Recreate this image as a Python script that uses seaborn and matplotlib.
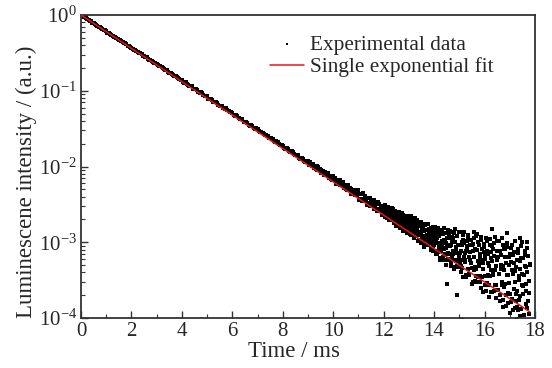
import numpy as np
import pandas as pd
import matplotlib
matplotlib.use('Agg')
import matplotlib.pyplot as plt
import matplotlib.ticker as mticker
from matplotlib.collections import PathCollection
import seaborn as sns

# decay data (time in ms, intensity as log10)
time_early = [0.0, 0.1, 0.2, 0.3, 0.4, 0.5, 0.6, 0.7, 0.8, 0.9,
              1.0, 1.1, 1.2, 1.3, 1.4, 1.5, 1.6, 1.7, 1.8, 1.9,
              2.0, 2.1, 2.2, 2.3, 2.4, 2.5, 2.6, 2.7, 2.8, 2.9,
              3.0, 3.1, 3.2, 3.3, 3.4, 3.5, 3.6, 3.7, 3.8, 3.9,
              4.0, 4.1, 4.2, 4.3, 4.4, 4.5, 4.6, 4.7, 4.8, 4.9,
              5.0, 5.1, 5.2, 5.3, 5.4, 5.5, 5.6, 5.7, 5.8, 5.9,
              6.0, 6.1, 6.2, 6.3, 6.4, 6.5, 6.6, 6.7, 6.8, 6.9,
              7.0, 7.1, 7.2, 7.3, 7.4, 7.5, 7.6, 7.7, 7.8, 7.9,
              8.0, 8.1, 8.2, 8.3, 8.4, 8.5, 8.6, 8.7, 8.8, 8.9,
              0.05, 0.15, 0.25, 0.35, 0.45, 0.55, 0.65, 0.75, 0.85, 0.95,
              1.05, 1.15, 1.25, 1.35, 1.45, 1.55, 1.65, 1.75, 1.85, 1.95,
              2.05, 2.15, 2.25, 2.35, 2.45, 2.55, 2.65, 2.75, 2.85, 2.95,
              3.05, 3.15, 3.25, 3.35, 3.45, 3.55, 3.65, 3.75, 3.85, 3.95,
              4.05, 4.15, 4.25, 4.35, 4.45, 4.55, 4.65, 4.75, 4.85, 4.95,
              5.05, 5.15, 5.25, 5.35, 5.45, 5.55, 5.65, 5.75, 5.85, 5.95,
              6.05, 6.15, 6.25, 6.35, 6.45, 6.55, 6.65, 6.75, 6.85, 6.95,
              7.05, 7.15, 7.25, 7.35, 7.45, 7.55, 7.65, 7.75, 7.85, 7.95,
              8.05, 8.15, 8.25, 8.35, 8.45, 8.55, 8.65, 8.75, 8.85, 8.95]
log_early = [-0.003, -0.026, -0.041, -0.068, -0.083, -0.110, -0.127, -0.156, -0.171, -0.198,
             -0.214, -0.242, -0.258, -0.284, -0.299, -0.327, -0.343, -0.372, -0.388, -0.414,
             -0.430, -0.459, -0.474, -0.501, -0.516, -0.543, -0.560, -0.589, -0.604, -0.631,
             -0.647, -0.675, -0.691, -0.717, -0.732, -0.760, -0.776, -0.805, -0.821, -0.847,
             -0.858, -0.898, -0.905, -0.938, -0.942, -0.979, -0.987, -1.029, -1.033, -1.069,
             -1.075, -1.114, -1.122, -1.154, -1.158, -1.196, -1.203, -1.245, -1.250, -1.285,
             -1.291, -1.331, -1.338, -1.371, -1.375, -1.412, -1.420, -1.462, -1.466, -1.502,
             -1.508, -1.547, -1.555, -1.587, -1.591, -1.629, -1.636, -1.678, -1.683, -1.718,
             -1.724, -1.764, -1.771, -1.804, -1.808, -1.845, -1.853, -1.895, -1.899, -1.935,
             -0.014, -0.029, -0.056, -0.073, -0.102, -0.117, -0.144, -0.159, -0.186, -0.203,
             -0.231, -0.245, -0.273, -0.289, -0.318, -0.334, -0.360, -0.375, -0.403, -0.419,
             -0.447, -0.462, -0.489, -0.506, -0.535, -0.550, -0.577, -0.592, -0.619, -0.636,
             -0.664, -0.678, -0.706, -0.722, -0.751, -0.767, -0.793, -0.808, -0.836, -0.852,
             -0.886, -0.889, -0.925, -0.934, -0.975, -0.979, -1.016, -1.018, -1.056, -1.064,
             -1.103, -1.105, -1.142, -1.150, -1.191, -1.196, -1.232, -1.234, -1.273, -1.280,
             -1.319, -1.322, -1.358, -1.367, -1.408, -1.412, -1.449, -1.451, -1.489, -1.497,
             -1.536, -1.538, -1.575, -1.583, -1.624, -1.629, -1.665, -1.667, -1.706, -1.713,
             -1.752, -1.755, -1.791, -1.800, -1.841, -1.845, -1.882, -1.884, -1.922, -1.930]

time_mid = [9.0, 9.05, 9.1, 9.15, 9.2, 9.25, 9.3, 9.35, 9.4, 9.45,
            9.5, 9.55, 9.6, 9.65, 9.7, 9.75, 9.8, 9.85, 9.9, 9.95,
            10.0, 10.05, 10.1, 10.15, 10.2, 10.25, 10.3, 10.35, 10.4, 10.45,
            10.5, 10.55, 10.6, 10.65, 10.7, 10.75, 10.8, 10.85, 10.9, 10.95,
            11.0, 11.05, 11.1, 11.15, 11.2, 11.25, 11.3, 11.35, 11.4, 11.45,
            11.5, 11.55, 11.6, 11.65, 11.7, 11.75, 11.8, 11.85, 11.9, 11.95,
            9.025, 9.075, 9.125, 9.175, 9.225, 9.275, 9.325, 9.375, 9.425, 9.475,
            9.525, 9.575, 9.625, 9.675, 9.725, 9.775, 9.825, 9.875, 9.925, 9.975,
            10.025, 10.075, 10.125, 10.175, 10.225, 10.275, 10.325, 10.375, 10.425, 10.475,
            10.525, 10.575, 10.625, 10.675, 10.725, 10.775, 10.825, 10.875, 10.925, 10.975,
            11.025, 11.075, 11.125, 11.175, 11.225, 11.275, 11.325, 11.375, 11.425, 11.475,
            11.525, 11.575, 11.625, 11.675, 11.725, 11.775, 11.825, 11.875, 11.925, 11.975]
log_mid = [-1.932, -1.981, -1.963, -1.989, -1.964, -2.018, -2.001, -2.046, -2.012, -2.050,
           -2.051, -2.078, -2.059, -2.108, -2.090, -2.116, -2.091, -2.145, -2.128, -2.173,
           -2.127, -2.181, -2.176, -2.214, -2.177, -2.248, -2.214, -2.249, -2.203, -2.282,
           -2.249, -2.315, -2.254, -2.308, -2.303, -2.342, -2.304, -2.375, -2.341, -2.376,
           -2.311, -2.423, -2.368, -2.462, -2.365, -2.442, -2.428, -2.481, -2.419, -2.520,
           -2.465, -2.511, -2.438, -2.550, -2.495, -2.590, -2.492, -2.569, -2.555, -2.597,
           -1.967, -1.939, -1.976, -1.966, -2.021, -1.996, -2.037, -1.999, -2.043, -2.032,
           -2.088, -2.056, -2.094, -2.066, -2.103, -2.093, -2.148, -2.123, -2.164, -2.126,
           -2.173, -2.152, -2.230, -2.177, -2.229, -2.181, -2.232, -2.211, -2.289, -2.246,
           -2.302, -2.240, -2.300, -2.279, -2.357, -2.305, -2.356, -2.308, -2.359, -2.338,
           -2.439, -2.365, -2.446, -2.344, -2.432, -2.394, -2.509, -2.422, -2.495, -2.415,
           -2.489, -2.450, -2.566, -2.492, -2.573, -2.472, -2.559, -2.521, -2.636, -2.549]

time_late = [12.0, 12.025, 12.05, 12.075, 12.1, 12.125, 12.15, 12.175, 12.2, 12.225,
             12.25, 12.275, 12.3, 12.325, 12.35, 12.375, 12.4, 12.425, 12.45, 12.475,
             12.5, 12.525, 12.55, 12.575, 12.6, 12.625, 12.65, 12.675, 12.7, 12.725,
             12.75, 12.775, 12.8, 12.825, 12.85, 12.875, 12.9, 12.925, 12.95, 12.975,
             13.0, 13.025, 13.05, 13.075, 13.1, 13.125, 13.15, 13.175, 13.2, 13.225,
             13.25, 13.275, 13.3, 13.325, 13.35, 13.375, 13.4, 13.425, 13.45, 13.475,
             13.5, 13.525, 13.55, 13.575, 13.6, 13.625, 13.65, 13.675, 13.7, 13.725,
             13.75, 13.775, 13.8, 13.825, 13.85, 13.875, 13.9, 13.925, 13.95, 13.975,
             12.0125, 12.0375, 12.0625, 12.0875, 12.1125, 12.1375, 12.1625, 12.1875, 12.2125, 12.2375,
             12.2625, 12.2875, 12.3125, 12.3375, 12.3625, 12.3875, 12.4125, 12.4375, 12.4625, 12.4875,
             12.5125, 12.5375, 12.5625, 12.5875, 12.6125, 12.6375, 12.6625, 12.6875, 12.7125, 12.7375,
             12.7625, 12.7875, 12.8125, 12.8375, 12.8625, 12.8875, 12.9125, 12.9375, 12.9625, 12.9875,
             13.0125, 13.0375, 13.0625, 13.0875, 13.1125, 13.1375, 13.1625, 13.1875, 13.2125, 13.2375,
             13.2625, 13.2875, 13.3125, 13.3375, 13.3625, 13.3875, 13.4125, 13.4375, 13.4625, 13.4875,
             13.5125, 13.5375, 13.5625, 13.5875, 13.6125, 13.6375, 13.6625, 13.6875, 13.7125, 13.7375,
             13.7625, 13.7875, 13.8125, 13.8375, 13.8625, 13.8875, 13.9125, 13.9375, 13.9625, 13.9875]
log_late = [-2.56, -2.64, -2.51, -2.61, -2.56, -2.68, -2.60, -2.56, -2.66, -2.70,
            -2.56, -2.64, -2.60, -2.70, -2.55, -2.68, -2.64, -2.75, -2.59, -2.73,
            -2.68, -2.62, -2.76, -2.66, -2.72, -2.60, -2.80, -2.66, -2.76, -2.71,
            -2.64, -2.85, -2.69, -2.78, -2.65, -2.83, -2.73, -2.65, -2.83, -2.78,
            -2.70, -2.89, -2.75, -2.84, -2.66, -2.90, -2.79, -2.74, -2.94, -2.76,
            -2.85, -2.72, -2.92, -2.81, -2.99, -2.75, -2.90, -2.78, -2.99, -2.73,
            -2.87, -2.96, -2.79, -2.92, -2.85, -3.04, -2.77, -2.97, -2.90, -3.03,
            -2.76, -3.03, -2.87, -2.96, -2.82, -3.09, -2.92, -3.01, -2.80, -3.06,
            -2.61, -2.52, -2.67, -2.58, -2.55, -2.63, -2.53, -2.67, -2.61, -2.58,
            -2.71, -2.61, -2.66, -2.58, -2.70, -2.56, -2.73, -2.63, -2.67, -2.78,
            -2.63, -2.73, -2.60, -2.71, -2.63, -2.81, -2.69, -2.68, -2.79, -2.62,
            -2.76, -2.72, -2.84, -2.66, -2.80, -2.69, -2.88, -2.69, -2.74, -2.86,
            -2.67, -2.81, -2.74, -2.91, -2.79, -2.71, -2.88, -2.77, -2.83, -2.68,
            -2.91, -2.80, -2.71, -2.90, -2.77, -2.97, -2.86, -2.77, -2.91, -3.01,
            -2.77, -2.83, -2.98, -2.76, -3.06, -2.84, -2.94, -2.76, -3.03, -2.90,
            -3.01, -2.83, -3.00, -2.91, -3.10, -2.81, -2.97, -2.87, -3.11, -2.92]

time_tail = [14.0, 14.025, 14.05, 14.075, 14.1, 14.125, 14.15, 14.175, 14.2, 14.225,
             14.25, 14.275, 14.3, 14.325, 14.35, 14.375, 14.4, 14.425, 14.45, 14.475,
             14.5, 14.525, 14.55, 14.575, 14.6, 14.625, 14.65, 14.675, 14.7, 14.725,
             14.75, 14.775, 14.8, 14.825, 14.85, 14.875, 14.9, 14.925, 14.95, 14.975,
             15.0, 15.025, 15.05, 15.075, 15.1, 15.125, 15.15, 15.175, 15.2, 15.225,
             15.25, 15.275, 15.3, 15.325, 15.35, 15.375, 15.4, 15.425, 15.45, 15.475,
             15.5, 15.525, 15.55, 15.575, 15.6, 15.625, 15.65, 15.675, 15.7, 15.725,
             15.75, 15.775, 15.8, 15.825, 15.85, 15.875, 15.9, 15.925, 15.95, 15.975,
             16.0, 16.025, 16.05, 16.075, 16.1, 16.125, 16.15, 16.175, 16.2, 16.225,
             16.25, 16.275, 16.3, 16.325, 16.35, 16.375, 16.4, 16.425, 16.45, 16.475,
             16.5, 16.525, 16.55, 16.575, 16.6, 16.625, 16.65, 16.675, 16.7, 16.725,
             16.75, 16.775, 16.8, 16.825, 16.85, 16.875, 16.9, 16.925, 16.95, 16.975,
             17.0, 17.025, 17.05, 17.075, 17.1, 17.125, 17.15, 17.175, 17.2, 17.225,
             17.25, 17.275, 17.3, 17.325, 17.35, 17.375, 17.4, 17.425, 17.45, 17.475,
             17.5, 17.525, 17.55, 17.575, 17.6, 17.625, 17.65, 17.675, 17.7, 17.725,
             17.75, 17.775, 17.8,
             14.5, 14.9, 15.1, 15.6, 16.3, 16.6, 16.9, 17.3, 17.4, 17.7,
             14.0125, 14.0375, 14.0625, 14.0875, 14.1125, 14.1375, 14.1625, 14.1875, 14.2125, 14.2375,
             14.2625, 14.2875, 14.3125, 14.3375, 14.3625, 14.3875, 14.4125, 14.4375, 14.4625, 14.4875,
             14.5125, 14.5375, 14.5625, 14.5875, 14.6125, 14.6375, 14.6625, 14.6875, 14.7125, 14.7375,
             14.7625, 14.7875, 14.8125, 14.8375, 14.8625, 14.8875, 14.9125, 14.9375, 14.9625, 14.9875,
             15.0125, 15.0375, 15.0625, 15.0875, 15.1125, 15.1375, 15.1625, 15.1875, 15.2125, 15.2375,
             15.2625, 15.2875, 15.3125, 15.3375, 15.3625, 15.3875, 15.4125, 15.4375, 15.4625, 15.4875,
             15.5125, 15.5375, 15.5625, 15.5875, 15.6125, 15.6375, 15.6625, 15.6875, 15.7125, 15.7375,
             15.7625, 15.7875, 15.8125, 15.8375, 15.8625, 15.8875, 15.9125, 15.9375, 15.9625, 15.9875,
             16.0125, 16.0375, 16.0625, 16.0875, 16.1125, 16.1375, 16.1625, 16.1875, 16.2125, 16.2375,
             16.2625, 16.2875, 16.3125, 16.3375, 16.3625, 16.3875, 16.4125, 16.4375, 16.4625, 16.4875,
             16.5125, 16.5375, 16.5625, 16.5875, 16.6125, 16.6375, 16.6625, 16.6875, 16.7125, 16.7375,
             16.7625, 16.7875, 16.8125, 16.8375, 16.8625, 16.8875, 16.9125, 16.9375, 16.9625, 16.9875,
             17.0125, 17.0375, 17.0625, 17.0875, 17.1125, 17.1375, 17.1625, 17.1875, 17.2125, 17.2375,
             17.2625, 17.2875, 17.3125, 17.3375, 17.3625, 17.3875, 17.4125, 17.4375, 17.4625, 17.4875,
             17.5125, 17.5375, 17.5625, 17.5875, 17.6125, 17.6375, 17.6625, 17.6875, 17.7125, 17.7375,
             17.7625, 17.7875]
log_tail = [-2.90, -3.11, -2.80, -3.01, -3.16, -2.94, -2.85, -3.09, -3.01, -3.21,
            -2.89, -3.09, -2.98, -2.85, -3.20, -3.09, -2.81, -3.17, -2.98, -3.30,
            -2.94, -3.04, -3.22, -2.89, -3.15, -2.85, -3.29, -3.03, -3.20, -2.93,
            -3.12, -2.88, -3.35, -3.00, -3.25, -3.12, -2.92, -3.32, -3.04, -3.19,
            -2.87, -3.26, -3.11, -3.39, -3.00, -3.34, -2.97, -3.19, -2.86, -3.26,
            -3.11, -3.46, -3.05, -2.93, -3.35, -3.19, -3.43, -3.04, -3.27, -2.97,
            -3.55, -3.12, -3.02, -3.36, -3.19, -3.51, -2.92, -3.35, -3.10, -3.46,
            -3.00, -3.29, -3.44, -3.19, -2.97, -3.61, -3.09, -3.35, -3.28, -3.06,
            -3.56, -3.18, -3.45, -2.95, -3.54, -3.27, -3.16, -3.72, -3.04, -3.45,
            -3.13, -3.66, -3.25, -3.09, -3.43, -3.01, -3.56, -3.36, -3.74, -3.24,
            -2.98, -3.63, -3.20, -3.42, -3.69, -3.12, -3.35, -3.57, -2.95, -3.76,
            -3.32, -3.09, -3.55, -3.19, -3.84, -3.43, -3.06, -3.67, -3.30, -3.54,
            -3.16, -3.93, -3.26, -3.75, -3.03, -3.42, -3.62, -3.13, -3.87, -3.38,
            -3.68, -3.24, -3.85, -3.09, -3.50, -3.76, -3.35, -3.98, -3.21, -3.57,
            -3.00, -3.68, -3.43, -3.96, -3.17, -3.65, -3.33, -3.87, -3.07, -3.78,
            -3.51, -3.95, -3.30,
            -3.55, -3.70, -4.02, -2.86, -2.83, -4.05, -2.88, -4.01, -2.95, -3.00,
            -3.04, -2.84, -3.15, -2.97, -2.89, -3.13, -2.81, -3.05, -2.92, -3.24,
            -2.84, -3.11, -3.03, -2.89, -3.24, -2.97, -3.16, -2.88, -3.07, -3.01,
            -3.23, -2.84, -3.14, -2.94, -3.23, -3.05, -2.87, -3.32, -2.98, -3.15,
            -2.94, -3.24, -2.83, -3.33, -3.06, -3.14, -2.92, -3.24, -3.04, -3.33,
            -3.14, -2.87, -3.32, -3.03, -3.24, -2.91, -3.46, -3.01, -3.23, -3.14,
            -3.43, -2.99, -3.09, -3.35, -2.90, -3.42, -3.13, -3.23, -2.97, -3.34,
            -3.04, -3.52, -3.19, -2.95, -3.33, -3.09, -3.45, -2.89, -3.53, -3.25,
            -3.32, -3.04, -3.52, -3.15, -2.93, -3.46, -3.24, -3.66, -3.13, -3.02,
            -3.44, -3.22, -3.65, -3.11, -2.99, -3.43, -3.31, -3.56, -2.96, -3.37,
            -3.21, -3.66, -3.05, -3.42, -3.18, -3.64, -2.93, -3.57, -3.32, -3.11,
            -3.63, -3.20, -3.42, -2.99, -3.78, -3.30, -3.17, -3.53, -3.04, -3.85,
            -3.36, -3.59, -3.09, -3.69, -3.28, -3.01, -3.80, -3.43, -3.20, -3.54,
            -3.68, -3.07, -3.79, -3.36, -3.17, -3.90, -3.27, -3.52, -2.98, -3.78,
            -3.33, -3.64, -3.14, -3.90, -3.45, -3.25, -3.71, -3.05, -3.88, -3.42,
            -3.58, -3.21, -4.06, -3.32, -3.11, -3.81, -3.55, -3.39, -4.04, -3.18,
            -3.67, -3.29]

# single exponential fit (straight line on the log axis)
fit_time = [0.0, 17.8]
fit_intensity = [1.0, 1.2e-4]

df = pd.DataFrame({
    'time': time_early + time_mid + time_late + time_tail,
    'log_int': log_early + log_mid + log_late + log_tail,
})
df['intensity'] = 10 ** df['log_int']
fit = pd.DataFrame({'time': fit_time, 'intensity': fit_intensity})

sns.set_style('ticks')
plt.rcParams['font.family'] = ['Liberation Serif', 'DejaVu Serif']
plt.rcParams['mathtext.fontset'] = 'custom'
plt.rcParams['mathtext.rm'] = 'Liberation Serif'
plt.rcParams['mathtext.it'] = 'Liberation Serif:italic'
plt.rcParams['mathtext.bf'] = 'Liberation Serif:bold'

fig = plt.figure(figsize=(5.52, 3.68), dpi=100)
ax = fig.add_axes([0.1467, 0.1359, 0.8225, 0.8233])

sns.scatterplot(data=df, x='time', y='intensity', ax=ax, color='black',
                marker='s', s=5, linewidth=0, label='Experimental data', zorder=2)
sns.lineplot(data=fit, x='time', y='intensity', ax=ax, color='#e8141c',
             linewidth=1.1, label='Single exponential fit', zorder=3)

ax.set_yscale('log')
ax.set_xlim(0, 18)
ax.set_ylim(1e-4, 1)
ax.xaxis.set_major_locator(mticker.MultipleLocator(2))
ax.xaxis.set_minor_locator(mticker.MultipleLocator(1))
ax.yaxis.set_major_locator(mticker.LogLocator(base=10, numticks=10))
ax.yaxis.set_minor_locator(mticker.LogLocator(base=10, subs=np.arange(2, 10), numticks=10))
ax.yaxis.set_minor_formatter(mticker.NullFormatter())

ax.tick_params(which='both', direction='in', top=False, right=False, labelsize=15,
               color='#333333', pad=3)
ax.tick_params(which='major', length=5, width=1)
ax.tick_params(which='minor', length=3, width=0.8)
for sp in ax.spines.values():
    sp.set_linewidth(1.3)
    sp.set_color('#333333')

ax.set_xlabel('Time / ms', fontsize=16.5, labelpad=0)
ax.set_ylabel('Luminescene intensity / (a.u.)', fontsize=16.5, labelpad=1)
ax.xaxis.label.set_x(0.47)
ax.yaxis.label.set_y(0.45)

leg = ax.legend(loc='upper left', bbox_to_anchor=(0.416, 0.935), frameon=False,
                fontsize=15.3, handlelength=1.6, handletextpad=0.3,
                labelspacing=0.12, borderpad=0, borderaxespad=0)
for h in leg.legend_handles:
    if isinstance(h, PathCollection):
        h.set_sizes([2.5])

fig.savefig('out.png', dpi=100)
